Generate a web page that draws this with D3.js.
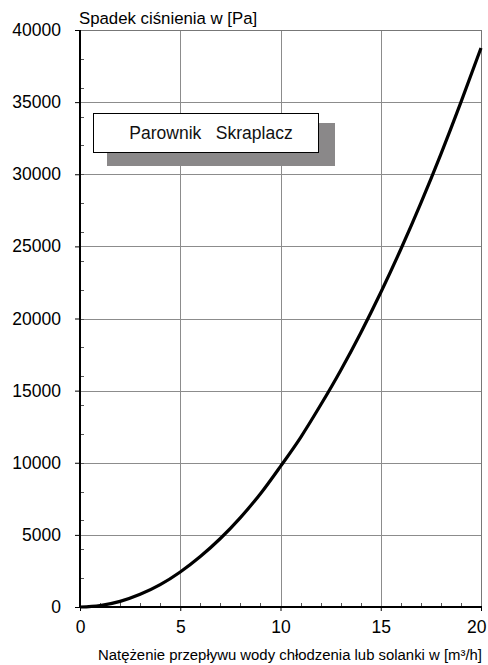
<!DOCTYPE html>
<html>
<head>
<meta charset="utf-8">
<script src="https://cdn.jsdelivr.net/npm/d3@7"></script>
<style>
  html, body { margin: 0; padding: 0; background: #fff; }
  svg { display: block; font-family: "Liberation Sans", Arial, Helvetica, sans-serif; }
</style>
</head>
<body>
<svg id="chart" width="488" height="665"></svg>
<script>
// Flow rate [m³/h] and the matching pressure drop [Pa]
const flow = [0, 1, 2, 3, 4, 5, 6, 7, 8, 9, 10, 11, 12, 13, 14, 15, 16, 17, 18, 19, 20];
const pressureDrop = [0, 100, 390, 880, 1550, 2430, 3500, 4750, 6200, 7850, 9750,
                      11750, 14000, 16400, 19000, 21800, 24800, 28000, 31400, 35000, 38750];
const xTicks = [0, 5, 10, 15, 20];
const yTicks = [0, 5000, 10000, 15000, 20000, 25000, 30000, 35000, 40000];
const yTitle = "Spadek ciśnienia w [Pa]";
const xTitle = "Natężenie przepływu wody chłodzenia lub solanki w [m³/h]";
const legendText = "Parownik   Skraplacz";

(function () {
  const svg = d3.select("#chart");
  const plot = { left: 80, right: 481, top: 30, bottom: 607 };

  const x = d3.scaleLinear().domain([0, 20]).range([plot.left, plot.right]);
  const y = d3.scaleLinear().domain([0, 40000]).range([plot.bottom, plot.top]);

  // grid
  const grid = svg.append("g").attr("stroke", "#8c8c8c").attr("stroke-width", 1);
  grid.selectAll("line.v").data(xTicks.slice(1)).join("line")
    .attr("x1", d => Math.round(x(d)) + 0.5).attr("x2", d => Math.round(x(d)) + 0.5)
    .attr("y1", plot.top).attr("y2", plot.bottom);
  grid.selectAll("line.h").data(yTicks.slice(1)).join("line")
    .attr("x1", plot.left).attr("x2", plot.right)
    .attr("y1", d => Math.round(y(d)) + 0.5).attr("y2", d => Math.round(y(d)) + 0.5);

  // minor ticks, pointing into the plot
  const minorX = d3.range(1, 20).filter(v => v % 5 !== 0);
  svg.append("g").selectAll("line").data(minorX).join("line")
    .attr("x1", d => Math.round(x(d)) + 0.5).attr("x2", d => Math.round(x(d)) + 0.5)
    .attr("y1", plot.bottom).attr("y2", plot.bottom - 4)
    .attr("stroke", "#555").attr("stroke-width", 1);
  const minorY = d3.range(2000, 40000, 2000);
  svg.append("g").selectAll("line").data(minorY).join("line")
    .attr("x1", plot.left).attr("x2", plot.left + 4)
    .attr("y1", d => Math.round(y(d)) + 0.5).attr("y2", d => Math.round(y(d)) + 0.5)
    .attr("stroke", "#555").attr("stroke-width", 1);

  // axes
  const xAxis = d3.axisBottom(x).tickValues(xTicks).tickSize(4).tickPadding(10).tickFormat(d3.format("d"));
  const yAxis = d3.axisLeft(y).tickValues(yTicks).tickSize(5).tickPadding(14).tickFormat(d3.format("d"));

  const gx = svg.append("g").attr("transform", `translate(0,${plot.bottom})`).call(xAxis);
  const gy = svg.append("g").attr("transform", `translate(${plot.left},0)`).call(yAxis);
  [gx, gy].forEach(g => {
    g.select(".domain").remove();
    g.selectAll(".tick line").attr("stroke", "#000");
    g.selectAll(".tick text").attr("fill", "#000").attr("font-size", 17.5)
      .attr("font-family", "'Liberation Sans', Arial, Helvetica, sans-serif");
  });
  // keep the last x label inside the page
  gx.selectAll(".tick text").filter(d => d === 20).attr("text-anchor", "end").attr("x", 5);

  // frame: grey top/right, black left/bottom
  svg.append("line").attr("x1", plot.left).attr("x2", plot.right)
    .attr("y1", plot.top + 0.5).attr("y2", plot.top + 0.5)
    .attr("stroke", "#777").attr("stroke-width", 1);
  svg.append("line").attr("x1", plot.right + 0.5).attr("x2", plot.right + 0.5)
    .attr("y1", plot.top).attr("y2", plot.bottom)
    .attr("stroke", "#777").attr("stroke-width", 1);
  svg.append("line").attr("x1", plot.left).attr("x2", plot.left)
    .attr("y1", plot.top).attr("y2", plot.bottom + 1)
    .attr("stroke", "#000").attr("stroke-width", 2);
  svg.append("line").attr("x1", plot.left - 1).attr("x2", plot.right + 1)
    .attr("y1", plot.bottom).attr("y2", plot.bottom)
    .attr("stroke", "#000").attr("stroke-width", 2);

  // pressure-drop curve
  const line = d3.line().x((d, i) => x(flow[i])).y(d => y(d)).curve(d3.curveMonotoneX);
  svg.append("path").datum(pressureDrop)
    .attr("d", line).attr("fill", "none")
    .attr("stroke", "#000").attr("stroke-width", 3.2).attr("stroke-linejoin", "round");

  // legend box with drop shadow
  svg.append("rect").attr("x", 107).attr("y", 123).attr("width", 228).attr("height", 43)
    .attr("fill", "#8a8889");
  svg.append("rect").attr("x", 93.5).attr("y", 113.5).attr("width", 225).attr("height", 39)
    .attr("fill", "#fff").attr("stroke", "#000").attr("stroke-width", 1);
  svg.append("text").attr("x", 211).attr("y", 139).attr("text-anchor", "middle")
    .attr("font-size", 17.5).attr("fill", "#111")
    .style("white-space", "pre").text(legendText);

  // axis titles
  svg.append("text").attr("x", 79).attr("y", 24).attr("font-size", 16.8).attr("fill", "#000")
    .text(yTitle);
  svg.append("text").attr("x", 482).attr("y", 660).attr("text-anchor", "end")
    .attr("font-size", 14.9).attr("fill", "#000").text(xTitle);
})();
</script>
</body>
</html>
